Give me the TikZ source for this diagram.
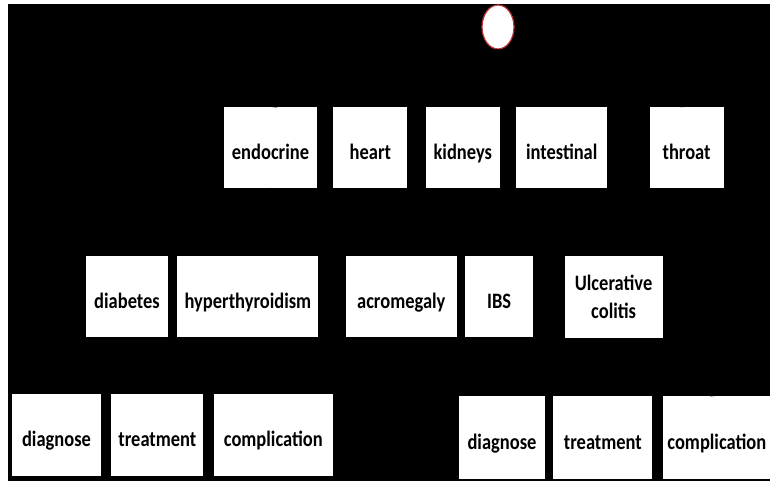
\documentclass[tikz,border=0pt]{standalone}
\usepackage{fontspec}
\setmainfont{Carlito}[FakeStretch=0.84]
\usepackage{xcolor}
\usepackage{tikz}
\usetikzlibrary{positioning, arrows.meta, shapes.geometric}
\definecolor{rootred}{RGB}{190,48,48}

\begin{document}
\begin{tikzpicture}[
      x=1pt, y=-1pt,
      every node/.style={font=\fontsize{22}{28}\selectfont\bfseries},
      card/.style={fill=white, inner sep=0pt, align=center, text height=24pt, text depth=0pt},
      organ/.style={card, minimum height=81pt},
      illness/.style={card, minimum height=81pt},
      topic/.style={card, minimum height=82pt},
      rootn/.style={ellipse, draw=rootred, line width=1.2pt, fill=white, minimum width=32pt, minimum height=44pt, inner sep=0pt},
      arr/.style={-{Stealth[length=6pt]}, black, semithick},
  ]
    \useasboundingbox (0,0) rectangle (770,482);
    \fill[white] (0,0) rectangle (770,482);
    \fill[black] (8,4) rectangle (770,481);

    \node[rootn] (root) at (498,27) {};

    % organs
    \node[organ, minimum width=93pt] (endo) at (270.5,147.5) {endocrine};
    \node[organ, minimum width=74pt, right=16pt of endo] (heart) {heart};
    \node[organ, minimum width=74pt, right=18pt of heart] (kidney) {kidneys};
    \node[organ, minimum width=91pt, right=16pt of kidney] (intest) {intestinal};
    \node[organ, minimum width=74pt, right=42pt of intest] (throat) {throat};

    \draw[arr](root.south)--(endo.north);
    \draw[arr](root.south)--(heart.north);
    \draw[arr](root.south)--(kidney.north);
    \draw[arr](root.south)--(intest.north);
    \draw[arr](root.south)--(throat.north);

    % illnesses
    \node[illness, minimum width=82pt] (diab) at (127,296.5) {diabetes};
    \node[illness, minimum width=141pt, right=9pt of diab] (hyper) {hyperthyroidism};
    \node[illness, minimum width=111pt, right=27pt of hyper] (acro) {acromegaly};
    \node[illness, minimum width=68pt, right=8pt of acro] (ibs) {IBS};
    \node[illness, minimum width=98pt, minimum height=82pt, text height={}, text depth={}, right=31pt of ibs] (colitis) {Ulcerative\\colitis};

    \draw[arr](endo.south)--(diab.north);
    \draw[arr](endo.south)--(hyper.north);
    \draw[arr](endo.south)--(acro.north);
    \draw[arr](intest.south)--(ibs.north);
    \draw[arr](intest.south)--(colitis.north);

    % topics
    \node[topic, minimum width=89pt] (diagA) at (56.5,434.5) {diagnose};
    \node[topic, minimum width=92pt, right=10pt of diagA] (treatA) {treatment};
    \node[topic, minimum width=119pt, right=10pt of treatA] (complA) {complication};

    \node[topic, minimum width=86pt, minimum height=83pt] (diagB) at (502,437.5) {diagnose};
    \node[topic, minimum width=99pt, minimum height=83pt, right=8pt of diagB] (treatB) {treatment};
    \node[topic, minimum width=108pt, minimum height=83pt, right=10pt of treatB] (complB) {complication};

    \draw[arr](diab.south)--(diagA.north);
    \draw[arr](diab.south)--(treatA.north);
    \draw[arr](diab.south)--(complA.north);
    \draw[arr](ibs.south)--(diagB.north);
    \draw[arr](ibs.south)--(treatB.north);
    \draw[arr](ibs.south)--(complB.north);
  \end{tikzpicture}
\end{document}
